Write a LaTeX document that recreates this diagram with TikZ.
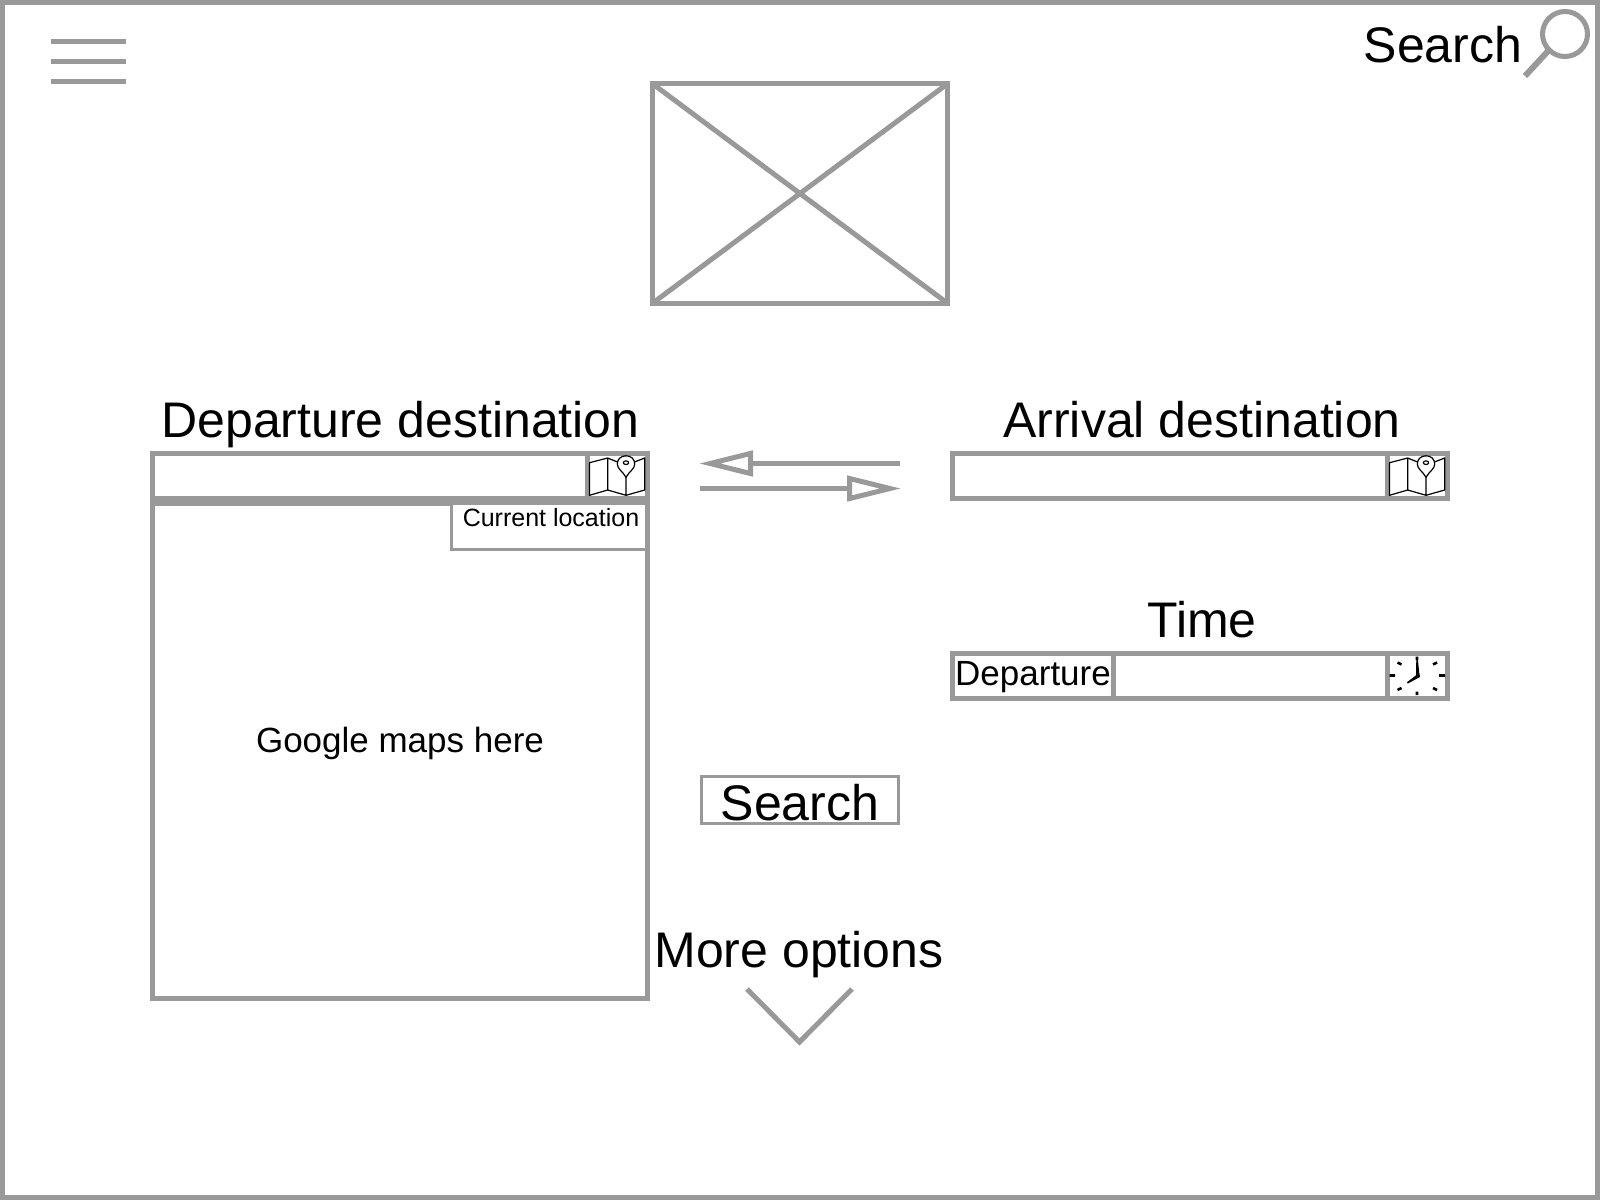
\documentclass[tikz,border=0pt]{standalone}
\usepackage{fontspec}
\setmainfont{Liberation Sans}
\usetikzlibrary{arrows.meta}
\definecolor{wire}{HTML}{999999}
\tikzset{
  wirebox/.style={draw=wire,line width=5pt,fill=white,minimum width=#1,inner sep=0pt,outer sep=0pt},
  thinbox/.style={draw=wire,line width=3pt,fill=white,inner sep=0pt,outer sep=0pt},
  wireline/.style={draw=wire,line width=5pt},
  swaparrow/.style={wireline,-{Triangle[open,fill=white,length=54pt,width=25pt]}},
  icon/.style={draw=black,line width=1.2pt,line join=round},
  tick/.style={draw=black,line width=2.6pt},
  bigtext/.style={font=\fontsize{50}{50}\selectfont,inner sep=0pt,text=black},
  midtext/.style={font=\fontsize{35}{35}\selectfont,inner sep=0pt,text=black},
  smalltext/.style={font=\fontsize{25}{25}\selectfont,inner sep=0pt,text=black},
}
\newcommand{\mapicon}[2]{%
  \begin{scope}[shift={(#1,#2)}]
    \draw[icon] (28,9) -- (18.2,5) -- (0,9.7) -- (0,42.3) -- (18.2,37) -- (18.2,5);
    \draw[icon] (18.2,37) -- (36.5,42.3) -- (55.2,37) -- (55.2,5) -- (45,9) (36.5,24.3) -- (36.5,42.3);
    \draw[icon] (36.5,24.3) .. controls (33,18) and (27.8,16) .. (27.8,11) .. controls (27.8,6) and (31.5,2.8) .. (36.5,2.8) .. controls (41.5,2.8) and (45.2,6) .. (45.2,11) .. controls (45.2,16) and (40,18) .. (36.5,24.3) -- cycle;
    \draw[icon] (36.5,9.7) ellipse (2.7pt and 1.8pt);
  \end{scope}}
\begin{document}
\begin{tikzpicture}[x=1pt,y=-1pt]
\useasboundingbox (0,0) rectangle (1600,1200);
\node[wirebox=1595pt,minimum height=1195pt] (frame) at (800,600) {};
% menu
\coordinate (m1a) at (51,41); \coordinate (m1b) at (126,41);
\coordinate (m2a) at (51,61); \coordinate (m2b) at (126,61);
\coordinate (m3a) at (51,81); \coordinate (m3b) at (126,81);
\draw[wireline] (m1a)--(m1b) (m2a)--(m2b) (m3a)--(m3b);
% search
\node[bigtext,anchor=base west] (topsearch) at (1363.5,62) {Search};
\node[draw=wire,line width=5pt,circle,minimum size=45pt,inner sep=0pt,outer sep=0pt] (lens) at (1565,34) {};
\coordinate (handle) at (1525,76);
\draw[draw=wire,line width=6pt] (lens.225) -- (handle);
% logo
\node[wirebox=295pt,minimum height=219.5pt] (logo) at (800,193.5) {};
\draw[draw=wire,line width=5pt] (logo.north west)--(logo.south east) (logo.north east)--(logo.south west);
% headings
\node[bigtext,anchor=base] (dephead) at (400.5,437.5) {Departure destination};
\node[bigtext,anchor=base] (arrhead) at (1202,437.5) {Arrival destination};
\node[bigtext,anchor=base] (timehead) at (1202,637) {Time};
% map
\node[wirebox=495pt,minimum height=495pt] (map) at (400,750.5) {};
\node[midtext,anchor=base] (maptext) at (400,752) {Google maps here};
\node[thinbox,minimum width=195pt,minimum height=46.5pt,anchor=north east] (curloc) at (646.5,503) {};
\node[smalltext,anchor=base] (curtext) at (551,526.5) {Current location};
% departure field
\node[wirebox=495pt,minimum height=45pt] (depfield) at (400,476) {};
\draw[wireline] (587,453.5) -- (587,498.5);
\mapicon{589.5}{453}
% arrows
\coordinate (aR) at (900,463.5); \coordinate (aL) at (699,463.5);
\coordinate (bL) at (700,488.5); \coordinate (bR) at (901,488.5);
\draw[swaparrow] (aR)--(aL);
\draw[swaparrow] (bL)--(bR);
% arrival
\node[wirebox=495pt,minimum height=45pt] (arrfield) at (1200,476) {};
\draw[wireline] (1387,453.5) -- (1387,498.5);
\mapicon{1389.5}{453}
% time
\node[wirebox=495pt,minimum height=45pt] (timefield) at (1200,676) {};
\draw[wireline] (1113,653.5) -- (1113,698.5);
\draw[wireline] (1387,653.5) -- (1387,698.5);
\node[midtext,anchor=base west] (deptext) at (955,685) {Departure};
% clock
\coordinate (clk) at (1417,675);
\draw[tick] (1417,656.5)--(1417,660) (1417,691.5)--(1417,695)
  (1389.5,675.5)--(1395,675.5) (1439,675.5)--(1445,675.5)
  (1397.5,662.5)--(1401.5,664.5) (1437,662.5)--(1433,664.5)
  (1397.5,690)--(1401.5,688) (1437,690)--(1433,688);
\fill[black] (1416.3,658) -- (1417.7,658) -- (1419.5,675.5) -- (1416,678) -- cycle;
\fill[black] (1419,673) -- (1420,677) -- (1407.8,683.5) -- (1407,682.2) -- cycle;
% search button
\node[thinbox,minimum width=197pt,minimum height=47pt] (btn) at (800,799.5) {};
\node[bigtext] (btntext) at (800,803) {Search};
% more
\node[bigtext,anchor=base] (more) at (799,967) {More options};
\coordinate (c1) at (747,989); \coordinate (c2) at (799.5,1042); \coordinate (c3) at (852,989);
\draw[wireline,miter limit=10] (c1)--(c2)--(c3);
\end{tikzpicture}
\end{document}
